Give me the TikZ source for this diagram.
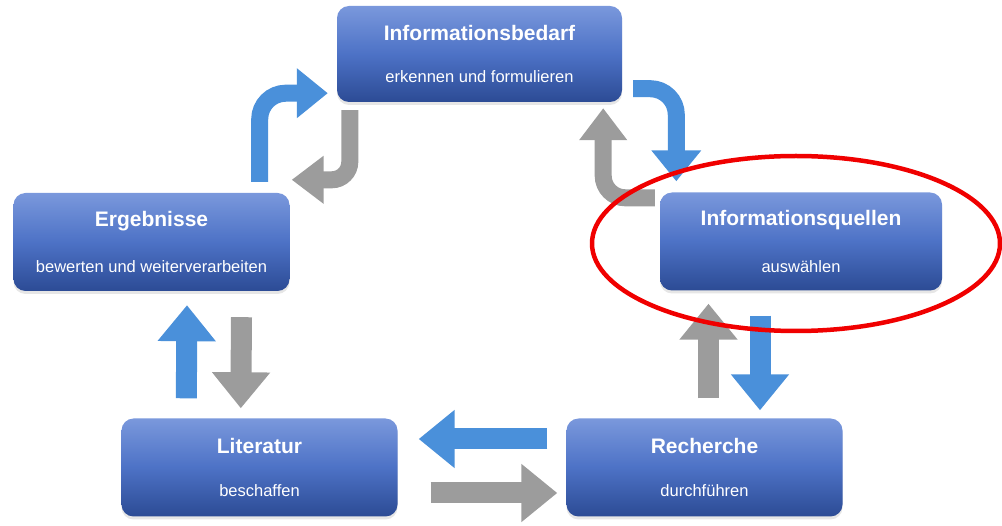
\documentclass[tikz,border=0pt]{standalone}
\usepackage{fontspec}
\setmainfont{Liberation Sans}
\usepackage{tikz}
\usetikzlibrary{positioning, arrows.meta, shadows}

\definecolor{boxtop}{HTML}{7A98DC}
\definecolor{boxmid}{HTML}{4D72C6}
\definecolor{boxbot}{HTML}{2C4B95}
\definecolor{arrowblue}{HTML}{4A90DA}
\definecolor{arrowgray}{HTML}{9C9C9C}
\definecolor{ringred}{HTML}{F00000}

\newcommand{\stufe}[2]{{\bfseries\fontsize{21}{24}\selectfont #1}\\[29pt]{\fontsize{16.5}{19}\selectfont #2}}

\tikzset{
  stepbox/.style = {rectangle, rounded corners=12pt, minimum width=276pt, minimum height=98pt,
    inner sep=0pt, align=center, text=white, top color=boxtop, bottom color=boxbot, middle color=boxmid,
    drop shadow={shadow xshift=0pt, shadow yshift=-3pt, opacity=0.2}},
  bluearrow/.style = {draw=arrowblue, line width=21pt, -{Triangle[width=56pt, length=36pt]}},
  grayarrow/.style = {draw=arrowgray, line width=21pt, -{Triangle[width=56pt, length=36pt]}},
  bluebend/.style = {draw=arrowblue, line width=17pt, -{Triangle[width=48pt, length=31pt]}},
  graybend/.style = {draw=arrowgray, line width=17pt, -{Triangle[width=46pt, length=32pt]}},
}

\begin{document}
\begin{tikzpicture} [x = 1pt, y = 1pt, on grid]
\useasboundingbox (0,0) rectangle (1002,-526);
\node [stepbox, minimum width=285pt, minimum height=96pt] (bedarf) at (479.5,-54)
    {\stufe{Informationsbedarf}{erkennen und formulieren}};
\node [stepbox] (ergebnisse) [below left = 188pt and 328pt of bedarf]
    {\stufe{Ergebnisse}{bewerten und weiterverarbeiten}};
\node [stepbox, minimum width=282pt] (quellen) [below right = 187.5pt and 321.5pt of bedarf]
    {\stufe{Informationsquellen}{auswählen}};
\node [stepbox] (literatur) [below right = 225.5pt and 108pt of ergebnisse]
    {\stufe{Literatur}{beschaffen}};
\node [stepbox] (recherche) [right = 445pt of literatur]
    {\stufe{Recherche}{durchführen}};
% straight arrows
\path
    ([xshift=65pt, yshift=20pt]literatur.north west) edge [bluearrow] ([xshift=35.5pt, yshift=-14pt]ergebnisse.south)
    ([xshift=90pt, yshift=-26pt]ergebnisse.south) edge [grayarrow] ([xshift=119.5pt, yshift=10pt]literatur.north west)
    ([xshift=4pt, yshift=20pt]recherche.north) edge [grayarrow] ([xshift=-92.5pt, yshift=-13pt]quellen.south)
    ([xshift=-41pt, yshift=-25pt]quellen.south) edge [bluearrow] ([xshift=55.5pt, yshift=8pt]recherche.north)
    ([xshift=-19pt, yshift=28.5pt]recherche.west) edge [bluearrow] ([xshift=21pt, yshift=28.5pt]literatur.east)
    ([xshift=33pt, yshift=-25.5pt]literatur.east) edge [grayarrow] ([xshift=-9pt, yshift=-25.5pt]recherche.west);
% bent arrows
\draw [bluebend, rounded corners=26pt] ([xshift=-30pt, yshift=11pt]ergebnisse.north east)
    |- ([xshift=-9pt, yshift=9pt]bedarf.south west);
\draw [graybend, rounded corners=18pt] ([xshift=13pt, yshift=-8pt]bedarf.south west)
    |- ([xshift=2pt, yshift=13pt]ergebnisse.north east);
\draw [bluebend, rounded corners=26pt] ([xshift=11pt, yshift=13.5pt]bedarf.south east)
    -| ([xshift=16.5pt, yshift=11pt]quellen.north west);
\draw [graybend, rounded corners=22pt] ([xshift=-5pt, yshift=-5.5pt]quellen.north west)
    -| ([xshift=-19pt, yshift=-6pt]bedarf.south east);
% mark
\draw [ringred, line width=4.5pt] (796,-243.5) ellipse [x radius=204pt, y radius=87.5pt];
\end{tikzpicture}
\end{document}
